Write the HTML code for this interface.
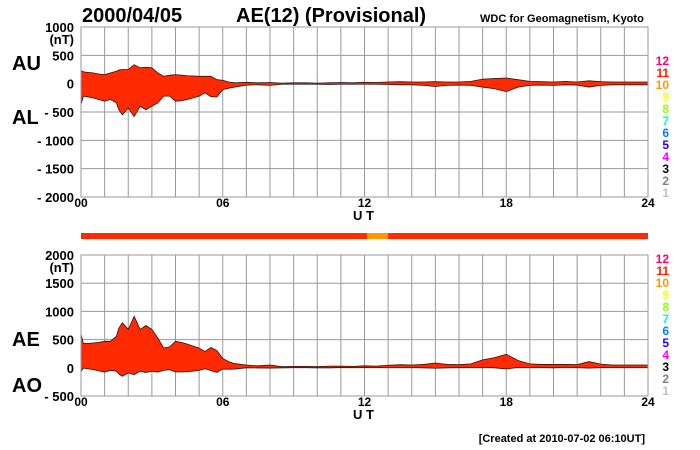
<!DOCTYPE html>
<html><head><meta charset="utf-8"><style>
body{margin:0;background:#fff;}
svg{display:block;font-family:"Liberation Sans",Arial,sans-serif;font-weight:bold;}
</style></head><body>
<svg id="chart" width="700" height="450" viewBox="0 0 700 450">
<text x="82" y="22" font-size="20">2000/04/05</text>
<text x="236" y="22" font-size="20">AE(12) (Provisional)</text>
<text x="480" y="22" font-size="11">WDC for Geomagnetism, Kyoto</text>
<text x="12" y="70" font-size="20">AU</text>
<text x="12" y="124" font-size="20">AL</text>
<text x="12" y="346" font-size="20">AE</text>
<text x="12" y="392" font-size="20">AO</text>
<text x="353" y="220" font-size="13">U T</text>
<text x="353" y="419" font-size="13">U T</text>
<text x="645" y="442" font-size="11" text-anchor="end">[Created at 2010-07-02 06:10UT]</text>
<g id="g"></g>
</svg>
<script>
const hours=[0,0.1,0.25,0.5,0.75,1,1.25,1.5,1.6,1.75,2,2.25,2.5,2.75,3,3.25,3.5,3.75,4,4.25,4.5,4.75,5,5.25,5.5,5.75,6,6.25,6.5,7,7.5,8,8.5,9,9.5,10,10.5,11,11.5,12,12.5,13,13.5,14,14.5,15,15.5,16,16.5,17,17.5,18,18.5,19,19.5,20,20.5,21,21.5,22,22.5,23,23.5,24];
const auValues=[230,210,200,190,170,160,190,220,240,250,250,335,280,290,280,190,130,150,160,150,140,135,130,130,130,70,60,30,15,25,15,20,10,15,15,10,15,20,15,25,20,30,35,30,30,35,30,30,40,80,90,100,70,40,35,30,40,30,50,35,30,30,30,30];
const alValues=[-370,-220,-230,-250,-280,-310,-280,-340,-460,-550,-430,-580,-400,-460,-400,-340,-220,-220,-310,-300,-280,-250,-220,-160,-230,-235,-105,-80,-60,-25,-20,-30,-10,-10,-10,-10,-15,-10,-10,-10,-10,-15,-20,-20,-30,-50,-30,-25,-30,-60,-90,-140,-60,-30,-25,-30,-20,-25,-60,-30,-20,-20,-20,-20];
const topTicks=[1000,500,0,-500,-1000,-1500,-2000];
const topTickLabels=["1000","500","0","- 500","- 1000","- 1500","- 2000"];
const botTicks=[2000,1500,1000,500,0,-500];
const botTickLabels=["2000","1500","1000","500","0","- 500"];
const xTicks=[0,6,12,18,24];
const xTickLabels=["00","06","12","18","24"];
const legendNums=["12","11","10","9","8","7","6","5","4","3","2","1"];
const legendColors=["#ff0080","#ff2000","#ff9900","#ffff00","#99ff00","#00ffcc","#0080ff","#2000ff","#ff00ff","#000000","#808080","#c0c0c0"];
const aeValues=auValues.map((u,i)=>u-alValues[i]);
const aoValues=auValues.map((u,i)=>(u+alValues[i])/2);

const NS="http://www.w3.org/2000/svg";
const g=document.getElementById('g');
const X0=81,X1=648;
const xs=h=>X0+(X1-X0)*h/24;
function mk(t,a){const e=document.createElementNS(NS,t);for(const k in a)e.setAttribute(k,a[k]);g.appendChild(e);return e;}
function panel(name,top,bot,vmax,vmin,ticks,labels,upper,lower,legTop){
  const ys=v=>top+(bot-top)*(vmax-v)/(vmax-vmin);
  for(let h=0;h<=24;h++){const l=mk('line',{x1:xs(h),x2:xs(h),y1:top,y2:bot,stroke:'#999','stroke-width':1});
    
    }
  ticks.forEach((v,i)=>{const l=mk('line',{x1:X0,x2:X1,y1:ys(v),y2:ys(v),stroke:'#999','stroke-width':1});
    
    
    const t=mk('text',{x:74,y:ys(v)+5,'font-size':13,'text-anchor':'end'});t.textContent=labels[i];
    
    });
  const u=mk('text',{x:74,y:ys(ticks[0])+17,'font-size':13,'text-anchor':'end'});u.textContent='(nT)';
  
  
  let d='M'+hours.map((h,i)=>xs(h)+','+ys(upper[i])).join(' L');
  for(let i=hours.length-1;i>=0;i--)d+=' L'+xs(hours[i])+','+ys(lower[i]);
  const p=mk('path',{d:d+'Z',fill:'#ff2a00',stroke:'#331111','stroke-width':0.8});
  
  
  const b=mk('rect',{x:X0,y:top,width:X1-X0,height:bot-top,fill:'none',stroke:'#999'});
  
  
  xTicks.forEach((h,i)=>{const t=mk('text',{x:xs(h),y:bot+10,'font-size':12,'text-anchor':'middle'});t.textContent=xTickLabels[i];
    
    });
  legendNums.forEach((n,i)=>{const t=mk('text',{x:669,y:legTop+i*12,'font-size':12,'text-anchor':'end',fill:legendColors[i]});t.textContent=n;
    
    });
}
panel('top-panel',27,197,1000,-2000,topTicks,topTickLabels,auValues,alValues,65);
panel('bottom-panel',255,396,2000,-500,botTicks,botTickLabels,aeValues,aoValues,263);
const cb=mk('rect',{x:X0,y:233,width:X1-X0,height:6,fill:'#ff2a00'});


const co=mk('rect',{x:xs(12.1),y:233,width:xs(13)-xs(12.1),height:6,fill:'#ff9900'});


</script>
</body></html>
